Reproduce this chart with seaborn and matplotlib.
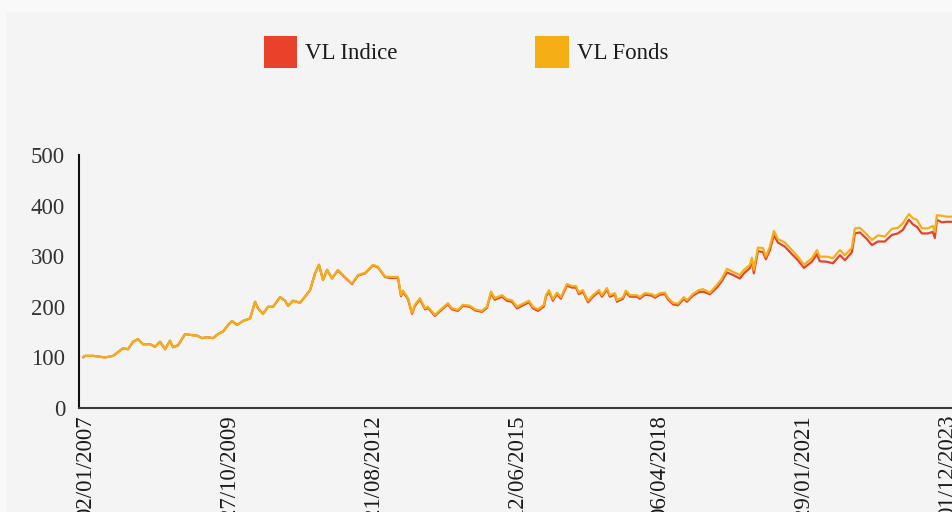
import matplotlib
matplotlib.use("Agg")
import matplotlib.pyplot as plt
import matplotlib.transforms as mtransforms
import seaborn as sns
import pandas as pd
from matplotlib.patches import Patch, Rectangle

# ---------------- data ----------------
dates = [
    "2007-01-02", "2007-01-16", "2007-03-15", "2007-06-09", "2007-08-05", "2007-10-16", "2007-11-20", "2007-12-26",
    "2008-01-31", "2008-03-07", "2008-04-26", "2008-06-01", "2008-07-07", "2008-08-12", "2008-09-16", "2008-10-08", "2008-11-13",
    "2009-01-02", "2009-02-21", "2009-03-29", "2009-05-04", "2009-06-09", "2009-07-22", "2009-08-26", "2009-10-01", "2009-11-06", "2009-12-05",
    "2010-01-10", "2010-02-22", "2010-04-13", "2010-05-19", "2010-06-09", "2010-07-15", "2010-08-20", "2010-09-25", "2010-11-14", "2010-12-20",
    "2011-01-10", "2011-02-15", "2011-04-06", "2011-05-12", "2011-06-17", "2011-07-23", "2011-08-20", "2011-09-18", "2011-10-17", "2011-11-21",
    "2012-01-03", "2012-02-22", "2012-04-13", "2012-05-26", "2012-07-15", "2012-09-10", "2012-10-16", "2012-12-05",
    "2013-01-10", "2013-03-08", "2013-03-30", "2013-04-13", "2013-05-19", "2013-06-17", "2013-07-08", "2013-08-13", "2013-09-18", "2013-10-09", "2013-11-28",
    "2014-01-18", "2014-03-02", "2014-03-30", "2014-05-12", "2014-06-17", "2014-08-06", "2014-09-11", "2014-10-31", "2014-12-06",
    "2015-01-04", "2015-02-01", "2015-03-24", "2015-04-28", "2015-06-03", "2015-07-09", "2015-08-21", "2015-10-03", "2015-11-01", "2015-12-07",
    "2016-01-19", "2016-02-02", "2016-02-23", "2016-03-23", "2016-04-21", "2016-05-19", "2016-07-01", "2016-08-06", "2016-09-04", "2016-09-25", "2016-10-24", "2016-11-29",
    "2017-01-04", "2017-02-16", "2017-03-09", "2017-04-14", "2017-05-05", "2017-06-10", "2017-06-25", "2017-08-07", "2017-08-28", "2017-09-26", "2017-11-15", "2017-12-06",
    "2018-01-11", "2018-03-02", "2018-03-24", "2018-04-29", "2018-06-04", "2018-06-25", "2018-07-31", "2018-09-05", "2018-10-18", "2018-11-08", "2018-12-21",
    "2019-02-02", "2019-03-03", "2019-04-22", "2019-06-11", "2019-07-17", "2019-08-22", "2019-10-04", "2019-11-23", "2019-12-22",
    "2020-02-03", "2020-02-17", "2020-03-02", "2020-03-31", "2020-05-06", "2020-05-27", "2020-06-25", "2020-07-24", "2020-08-21", "2020-10-10", "2020-11-30",
    "2021-01-12", "2021-02-24", "2021-04-22", "2021-05-28", "2021-06-18", "2021-08-08", "2021-09-20", "2021-11-09", "2021-12-15",
    "2022-02-03", "2022-02-24", "2022-04-01", "2022-05-21", "2022-06-26", "2022-08-08", "2022-09-27", "2022-11-16", "2022-12-29",
    "2023-02-03", "2023-03-18", "2023-04-16", "2023-05-15", "2023-06-19", "2023-08-01", "2023-09-06", "2023-09-20", "2023-10-05", "2023-11-09", "2023-12-15",
    "2024-01-20", "2024-03-01",
]

vl_fonds = [
    100, 103, 103, 100, 103, 118, 116, 131,
    136, 126, 126, 121, 131, 116, 133, 120, 124,
    146, 144, 143, 138, 140, 138, 146, 151, 164, 172,
    164, 172, 177, 210, 197, 186, 200, 200, 219, 212,
    202, 212, 208, 220, 233, 266, 283, 253, 273, 256,
    273, 259, 246, 263, 267, 283, 279, 260,
    259, 259, 223, 232, 217, 188, 204, 217, 197, 200, 184,
    197, 207, 197, 194, 204, 202, 195, 192, 200,
    230, 217, 223, 215, 213, 200, 206, 212, 200, 195,
    204, 223, 233, 215, 228, 219, 245, 241, 241, 228, 233, 212,
    223, 233, 223, 237, 223, 227, 213, 219, 232, 223, 223, 219,
    227, 225, 221, 227, 228, 218, 208, 206, 219, 213, 225,
    233, 235, 228, 243, 256, 275, 269, 263, 273,
    283, 297, 273, 317, 316, 299, 319, 350, 334, 327, 312,
    299, 283, 296, 312, 299, 299, 296, 312, 302,
    317, 355, 356, 343, 332, 341, 339, 354, 356,
    365, 383, 375, 372, 355, 355, 360, 348, 381, 380, 378,
    378, 382,
]

vl_indice = [
    100, 103, 103, 100, 103, 118, 116, 131,
    136, 126, 126, 121, 131, 116, 133, 120, 124,
    146, 144, 143, 138, 140, 138, 146, 151, 164, 172,
    164, 172, 177, 210, 197, 186, 200, 200, 219, 212,
    202, 212, 208, 220, 233, 266, 283, 253, 273, 256,
    272, 258, 245, 262, 266, 282, 278, 259,
    257, 257, 221, 230, 215, 186, 202, 215, 195, 198, 182,
    195, 205, 195, 192, 202, 200, 193, 190, 198,
    227, 214, 220, 212, 210, 197, 203, 209, 197, 192,
    201, 220, 230, 212, 225, 216, 242, 238, 238, 225, 230, 209,
    220, 230, 220, 234, 220, 224, 210, 216, 229, 220, 220, 216,
    224, 222, 218, 224, 225, 215, 205, 203, 216, 210, 222,
    229, 230, 225, 238, 251, 268, 263, 256, 266,
    277, 292, 266, 310, 308, 294, 312, 342, 327, 319, 304,
    292, 277, 289, 304, 290, 289, 286, 302, 292,
    308, 345, 347, 334, 322, 329, 329, 342, 345,
    352, 372, 363, 358, 345, 345, 348, 336, 372, 367, 368,
    368, 371,
]

series_names = ["VL Indice", "VL Fonds"]
tick_dates = ["2007-01-02", "2009-10-27", "2012-08-21", "2015-06-12",
              "2018-04-06", "2021-01-29", "2023-12-01"]
tick_labels = ["02/01/2007", "27/10/2009", "21/08/2012", "12/06/2015",
               "06/04/2018", "29/01/2021", "01/12/2023"]
y_ticks = [0, 100, 200, 300, 400, 500]

# ---------------- style ----------------
RED = "#E8432A"
YELLOW = "#F5AF14"
sns.set_theme(style="white")
plt.rcParams["font.family"] = ["Liberation Serif", "DejaVu Serif"]

fig = plt.figure(figsize=(9.52, 5.12), dpi=100, facecolor="#f9f9f9")
bg = Rectangle((6 / 952, 0), 1, 1 - 12 / 512, transform=fig.transFigure,
               facecolor="#f4f4f4", edgecolor="none", zorder=-10)
fig.add_artist(bg)

ax = fig.add_axes([79 / 952, 104 / 512, (1010 - 79) / 952, 253 / 512])
ax.set_facecolor("none")
ax.set_zorder(5)

df = pd.DataFrame({
    "date": pd.to_datetime(dates * 2),
    "value": vl_indice + vl_fonds,
    "serie": [series_names[0]] * len(dates) + [series_names[1]] * len(dates),
})

sns.lineplot(data=df, x="date", y="value", hue="serie", hue_order=series_names,
             palette={series_names[0]: RED, series_names[1]: YELLOW},
             linewidth=1.6, legend=False, ax=ax)

ax.set_xlim(pd.Timestamp("2006-12-04"), pd.Timestamp("2025-03-12"))
ax.set_ylim(0, 500)
ax.tick_params(axis="x", length=0, pad=5)
ax.tick_params(axis="y", length=0, pad=10)
ax.set_yticks(y_ticks)
ax.set_yticklabels([str(v) for v in y_ticks], fontsize=16.5, color="#333333")
ax.set_xticks(pd.to_datetime(tick_dates))
ax.set_xticklabels(tick_labels, rotation=90, fontsize=16.5, color="#1a1a1a",
                   va="top", ha="center")
ax.set_xlabel("")
ax.set_ylabel("")
ax.grid(False)
for s in ["top", "right"]:
    ax.spines[s].set_visible(False)
ax.spines["left"].set_color("#111111")
ax.spines["left"].set_linewidth(1.5)
ax.spines["bottom"].set_color("#3a3a3a")
ax.spines["bottom"].set_linewidth(1.5)

# small horizontal nudge of the date labels (as in the reference)
shift = mtransforms.ScaledTranslation(3 / 100, 0, fig.dpi_scale_trans)
for tick in ax.xaxis.get_major_ticks():
    tick.label1.set_transform(tick.label1.get_transform() + shift)

handles = [Patch(facecolor=RED, edgecolor="none", label=series_names[0]),
           Patch(facecolor=YELLOW, edgecolor="none", label=series_names[1])]
fig.legend(handles=handles, loc="center left", bbox_to_anchor=(264 / 952, 1 - 52 / 512),
           ncol=2, frameon=False, fontsize=16.5, handlelength=1.45, handleheight=1.75,
           handletextpad=0.36, columnspacing=6.0, borderpad=0, borderaxespad=0,
           labelcolor="#1a1a1a")

fig.savefig("out.png", dpi=100, facecolor=fig.get_facecolor())
